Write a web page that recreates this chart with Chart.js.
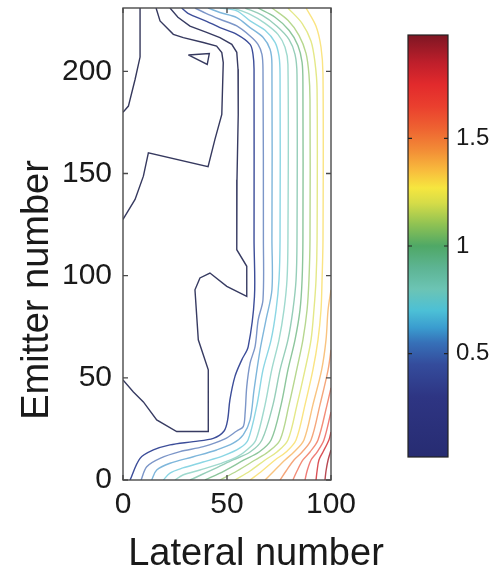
<!DOCTYPE html>
<html><head><meta charset="utf-8">
<script src="https://cdn.jsdelivr.net/npm/chart.js@4.4.1/dist/chart.umd.min.js"></script>
<style>
html,body{margin:0;padding:0;background:#fff;}
#wrap{position:relative;width:504px;height:583px;overflow:hidden;background:#fff;}
#main{position:absolute;left:0;top:0;}
#cbar{position:absolute;left:390px;top:0;}
</style></head><body>
<div id="wrap"><canvas id="main" width="390" height="583"></canvas><canvas id="cbar" width="114" height="583"></canvas></div>
<script>
// ---- axes / ticks ----
const xRange = [0, 100];
const yRange = [0, 231];
const xTicks = [0, 50, 100];
const yTicks = [0, 50, 100, 150, 200];
const cbRange = [0.02, 1.98];
const cbTicks = [0.5, 1, 1.5];
const xTitle = 'Lateral number';
const yTitle = 'Emitter number';

// ---- colormap (value -> colour) ----
const cmapValues = [0.02, 0.3, 0.45, 0.55, 0.62, 0.7, 0.8, 0.9, 1.0, 1.1, 1.2, 1.27, 1.35, 1.45, 1.55, 1.65, 1.75, 1.85, 1.98];
const cmapColors = ['#272c72','#2e3583','#344c9c','#3670b8','#3a9ccf','#4cc0d6','#6cc4b4','#5db493','#4fa866','#8fc253','#d6dc48','#f6e63f','#f8bc3d','#f28a36','#ee6131','#ea3f2e','#e22a2c','#bf1f2b','#7e1623'];

// ---- contour lines: level of each line, and its points [lateral, emitter] ----
const levels = [0.1, 0.2, 0.2, 0.3, 0.4, 0.5, 0.6, 0.7, 0.8, 0.9, 1.0, 1.1, 1.2, 1.3, 1.4, 1.5, 1.6, 1.7, 1.8, 1.9];
const contourA = [[8.2,231],[8.2,207],[5.8,196],[2.6,183],[0,180]];
const contourB = [[15.9,231],[17.8,224.7],[24.2,218.1],[29,216.5],[38.6,214.1],[45,212.4],[47.5,209.2],[48.2,204.3],[47.5,178.9],[44.2,166.7],[40.9,153.4],[12.2,160.1],[9.8,148.7],[5.8,137.3],[0,127.5]];
const contourB2 = [[31.4,208],[41.5,208.7],[40.5,203.4],[31.4,208]];
const contourC = [[22.6,231],[26.4,226.5],[32.2,222.1],[40.2,219.1],[46.6,216.5],[52.3,213.2],[54.7,209.3],[55.3,201],[55.4,178.9],[54.8,147],[54.7,112.7],[59.5,104.6],[59.5,89.9],[49.9,94.8],[41.8,101.3],[37,98.9],[34.6,93.1],[36.2,68.6],[41,53.9],[41,23.7],[25.8,23.7],[16.2,29.4],[9.8,38.2],[5,43.1],[0,49]];
const contourD = [[28.2,231],[31.25,228.4],[40.2,224.5],[46.6,221.4],[54.7,218.1],[61.1,213.2],[62.5,208.3],[63,201],[63,117.6],[63.2,89.7],[60.2,65.3],[57.1,58.8],[53.8,50.6],[51.4,39.2],[50.3,29.4],[48.6,24],[43.4,20.4],[33.8,18.8],[22.6,17.2],[14.6,14.7],[8.2,10.6],[3.4,0]];
const contourE = [[34.6,231],[39.9,228.4],[46.6,225.5],[54.7,222.2],[61.1,217.3],[64.9,213.2],[66.8,208.3],[67.3,201],[67.5,117.6],[67.3,88.2],[65,78.4],[63.5,65.3],[61.1,57.2],[59.5,45.7],[58.7,32.7],[57.8,26.1],[54.7,24],[49,20.1],[38.6,16.3],[27.4,13.9],[17.8,10.6],[11.4,6.5],[8.7,0]];
const contourF = [[40.9,231],[46.6,228.8],[54.7,226.3],[61.1,221.4],[67.3,216.7],[70.7,210.8],[71.6,203.4],[71.6,117.6],[71.6,93.1],[68.75,78.4],[65.9,63.7],[63,44.1],[61.1,29.4],[57.8,22.1],[53,18],[45,14.7],[33.8,11.4],[22.6,8.2],[16.2,4.9],[13.8,0]];
const contourG = [[46.6,231],[54.7,229.6],[61.1,224.7],[68.3,220.1],[73.1,214.2],[75,207.4],[75.5,198.5],[75.5,117.6],[75,98],[73.6,83.3],[71.2,68.6],[67.3,53.9],[64.4,36.8],[60.1,19.6],[56.25,15.7],[48.1,11.8],[38.5,8.8],[28.8,5.9],[22.6,3.4],[19.4,0]];
const contourH = [[52.9,231],[61.1,227.9],[68.3,223.5],[74.5,218.1],[77.9,211.8],[79.3,203.4],[79.3,117.6],[78.85,98],[77.4,83.3],[75,68.6],[71.5,53.9],[68.3,36.8],[63.9,19.6],[60.1,15.2],[54.8,11.3],[47.6,8.3],[37,4.9],[28.8,2.45],[25,0]];
const contourI = [[58.7,231],[66.8,227.5],[74,222.1],[79.8,215.7],[82.7,208.3],[83.65,198.5],[83.65,117.6],[83.2,98],[81.7,83.3],[79.3,68.6],[75.5,53.9],[72.1,36.8],[66.8,19.6],[61.1,13.7],[52.9,9.8],[42.8,4.9],[32.2,0]];
const contourJ = [[64.9,231],[73.1,226.5],[79.8,220.1],[84.1,212.7],[86.1,204.4],[86.5,193.6],[86.5,117.6],[86.1,98],[85.1,83.3],[82.7,68.6],[79.3,53.9],[76,36.8],[71.2,19.6],[65.4,13.7],[58.2,9.8],[48.6,4.4],[39.4,0]];
const contourK = [[71.6,231],[79.3,225],[84.6,217.6],[88,208.8],[89.4,198.5],[89.9,186.3],[89.9,117.6],[89.4,98],[88.5,83.3],[86.5,68.6],[83.5,53.9],[79.8,36.8],[75.5,19.6],[69.7,13.7],[63.5,9.8],[54.8,4.4],[46.6,0]];
const contourL = [[79.3,231],[86.1,223.5],[90.4,214.7],[92.3,204.4],[93.3,191.2],[93.3,117.6],[92.8,98],[91.8,83.3],[90.4,68.6],[87.5,53.9],[83.65,36.8],[79.3,19.6],[74,13.7],[68.3,9.8],[61.1,4.4],[53.8,0]];
const contourM = [[88,231],[92.8,222.1],[95.2,211.8],[96.15,198.5],[96.15,117.6],[95.7,98],[95.2,83.3],[93.75,68.6],[91.3,53.9],[87.5,36.8],[83.2,19.6],[78.4,13.7],[73.1,9.8],[66.8,4.4],[61.1,0]];
const contourN = [[100,93.1],[98.6,83.3],[97.6,68.6],[95.5,53.9],[91.3,36.8],[87,19.6],[82.2,13.7],[77.9,9.8],[72.6,4.4],[68.3,0]];
const contourO = [[100,63.7],[98.6,53.9],[94.7,36.8],[90.4,19.6],[86.1,13.7],[82.2,9.8],[78.4,4.4],[75.5,0]];
const contourP = [[100,45.1],[98.1,36.8],[93.75,19.6],[89.9,13.7],[86.5,9.8],[83.65,4.4],[81.7,0]];
const contourQ = [[100,33.3],[96.6,19.6],[93.3,13.7],[90.4,9.8],[88.5,4.4],[87.5,0]];
const contourR = [[100,23.5],[99,19.6],[96.15,13.7],[94.2,9.8],[93.3,4.4],[92.8,0]];
const contourS = [[100,14.7],[98.6,9.8],[97.6,4.4],[97.1,0]];
const contours = [contourA, contourB, contourB2, contourC, contourD, contourE, contourF, contourG, contourH, contourI, contourJ, contourK, contourL, contourM, contourN, contourO, contourP, contourQ, contourR, contourS];

// ---- helpers ----
function hexToRgb(h){ return [parseInt(h.slice(1,3),16), parseInt(h.slice(3,5),16), parseInt(h.slice(5,7),16)]; }
function colorAt(v){
  if (v <= cmapValues[0]) return hexToRgb(cmapColors[0]);
  for (let i = 1; i < cmapValues.length; i++){
    if (v <= cmapValues[i]){
      const t = (v - cmapValues[i-1]) / (cmapValues[i] - cmapValues[i-1]);
      const a = hexToRgb(cmapColors[i-1]), b = hexToRgb(cmapColors[i]);
      return a.map((c,k)=>Math.round(c + (b[k]-c)*t));
    }
  }
  return hexToRgb(cmapColors[cmapColors.length-1]);
}
function lineColor(level){
  const c = colorAt(level);
  let m;
  if (level <= 0.35) {
    m = c.map(v => Math.round(v * 0.5 + 64 * 0.5));
  } else {
    const w = level <= 0.45 ? 0.05 : (level >= 1.75 ? 0.2 : 0.35);
    m = c.map(v => Math.round(v + (255 - v) * w));
  }
  return 'rgb(' + m.join(',') + ')';
}
const FONT = '"Liberation Sans", Arial, Helvetica, sans-serif';

// ---- plugins ----
const framePlugin = {
  id: 'frame',
  afterDatasetsDraw(chart, args, o){
    if (!o || !o.color) return;
    const {ctx, chartArea: a, scales} = chart;
    ctx.save();
    ctx.strokeStyle = o.color; ctx.lineWidth = o.width;
    ctx.strokeRect(a.left, a.top, a.right - a.left, a.bottom - a.top);
    ctx.beginPath();
    (o.yt || []).forEach(v => {
      const p = scales.y.getPixelForValue(v);
      ctx.moveTo(a.left, p); ctx.lineTo(a.left + o.len, p);
      ctx.moveTo(a.right, p); ctx.lineTo(a.right - o.len, p);
    });
    (o.xt || []).forEach(v => {
      const p = scales.x.getPixelForValue(v);
      ctx.moveTo(p, a.bottom); ctx.lineTo(p, a.bottom - o.len);
      ctx.moveTo(p, a.top); ctx.lineTo(p, a.top + o.len);
    });
    ctx.stroke();
    ctx.restore();
  }
};
const titlePlugin = {
  id: 'axisTitles',
  afterDraw(chart, args, o){
    if (!o || !o.x) return;
    const {ctx, chartArea: a} = chart;
    ctx.save();
    ctx.fillStyle = '#1a1a1a';
    ctx.font = o.size + 'px ' + FONT;
    ctx.textAlign = 'center';
    ctx.textBaseline = 'alphabetic';
    ctx.fillText(o.x, a.left + o.xdx, a.bottom + o.xdy);
    ctx.translate(o.ybx, a.top + o.ydy);
    ctx.rotate(-Math.PI / 2);
    ctx.fillText(o.y, 0, 0);
    ctx.restore();
  }
};
Chart.register(framePlugin, titlePlugin);

// ---- main contour chart ----
new Chart(document.getElementById('main'), {
  type: 'scatter',
  data: {
    datasets: contours.map((pts, i) => ({
      data: pts,
      showLine: true,
      pointRadius: 0,
      borderWidth: 1.4,
      borderColor: lineColor(levels[i]),
      tension: levels[i] <= 0.3 ? 0 : 0.32,
      fill: false
    }))
  },
  options: {
    responsive: false, animation: false, events: [], devicePixelRatio: 1,
    layout: { padding: { left: 0, right: 59, top: 8, bottom: 0 } },
    plugins: {
      legend: { display: false }, tooltip: { enabled: false },
      frame: { color: '#4a4a4a', width: 1.4, len: 5, xt: xTicks, yt: yTicks },
      axisTitles: { x: xTitle, y: yTitle, size: 38, xdx: 133, xdy: 85, ybx: 48, ydy: 282 }
    },
    scales: {
      x: {
        type: 'linear', min: xRange[0], max: xRange[1],
        afterBuildTicks: s => { s.ticks = xTicks.map(v => ({ value: v })); },
        afterFit: s => { s.height = 103; s.paddingLeft = 0; s.paddingRight = 0; },
        ticks: { font: { family: FONT, size: 30 }, color: '#1a1a1a', padding: 7, maxRotation: 0, autoSkip: false },
        grid: { display: false, drawTicks: false }, border: { display: false }
      },
      y: {
        type: 'linear', min: yRange[0], max: yRange[1],
        afterBuildTicks: s => { s.ticks = yTicks.map(v => ({ value: v })); },
        afterFit: s => { s.width = 123; s.paddingTop = 0; s.paddingBottom = 0; },
        ticks: { font: { family: FONT, size: 30 }, color: '#1a1a1a', padding: 11, autoSkip: false },
        grid: { display: false, drawTicks: false }, border: { display: false }
      }
    }
  }
});

// ---- colour bar ----
new Chart(document.getElementById('cbar'), {
  type: 'bar',
  data: {
    labels: [''],
    datasets: [{
      data: [cbRange],
      borderWidth: 0,
      barPercentage: 1, categoryPercentage: 1,
      backgroundColor: ctx => {
        const ch = ctx.chart, ys = ch.scales.y;
        if (!ys) return '#888';
        const y0 = ys.getPixelForValue(cbRange[0]), y1 = ys.getPixelForValue(cbRange[1]);
        if (!isFinite(y0) || !isFinite(y1) || y0 === y1) return '#888';
        const g = ch.ctx.createLinearGradient(0, y0, 0, y1);
        cmapValues.forEach((v, i) => g.addColorStop((v - cbRange[0]) / (cbRange[1] - cbRange[0]), cmapColors[i]));
        return g;
      }
    }]
  },
  options: {
    responsive: false, animation: false, events: [], devicePixelRatio: 1,
    layout: { padding: { left: 18, right: 0, top: 35, bottom: 126 } },
    plugins: {
      legend: { display: false }, tooltip: { enabled: false },
      frame: { color: '#222', width: 1.2, len: 4, xt: [], yt: cbTicks },
      axisTitles: {}
    },
    scales: {
      x: { display: false },
      y: {
        position: 'right', min: cbRange[0], max: cbRange[1],
        afterBuildTicks: s => { s.ticks = cbTicks.map(v => ({ value: v })); },
        afterFit: s => { s.width = 56; s.paddingTop = 0; s.paddingBottom = 0; },
        ticks: { font: { family: FONT, size: 24 }, color: '#1a1a1a', padding: 8, autoSkip: false, callback: v => String(v) },
        grid: { display: false, drawTicks: false }, border: { display: false }
      }
    }
  }
});
</script>
</body></html>
